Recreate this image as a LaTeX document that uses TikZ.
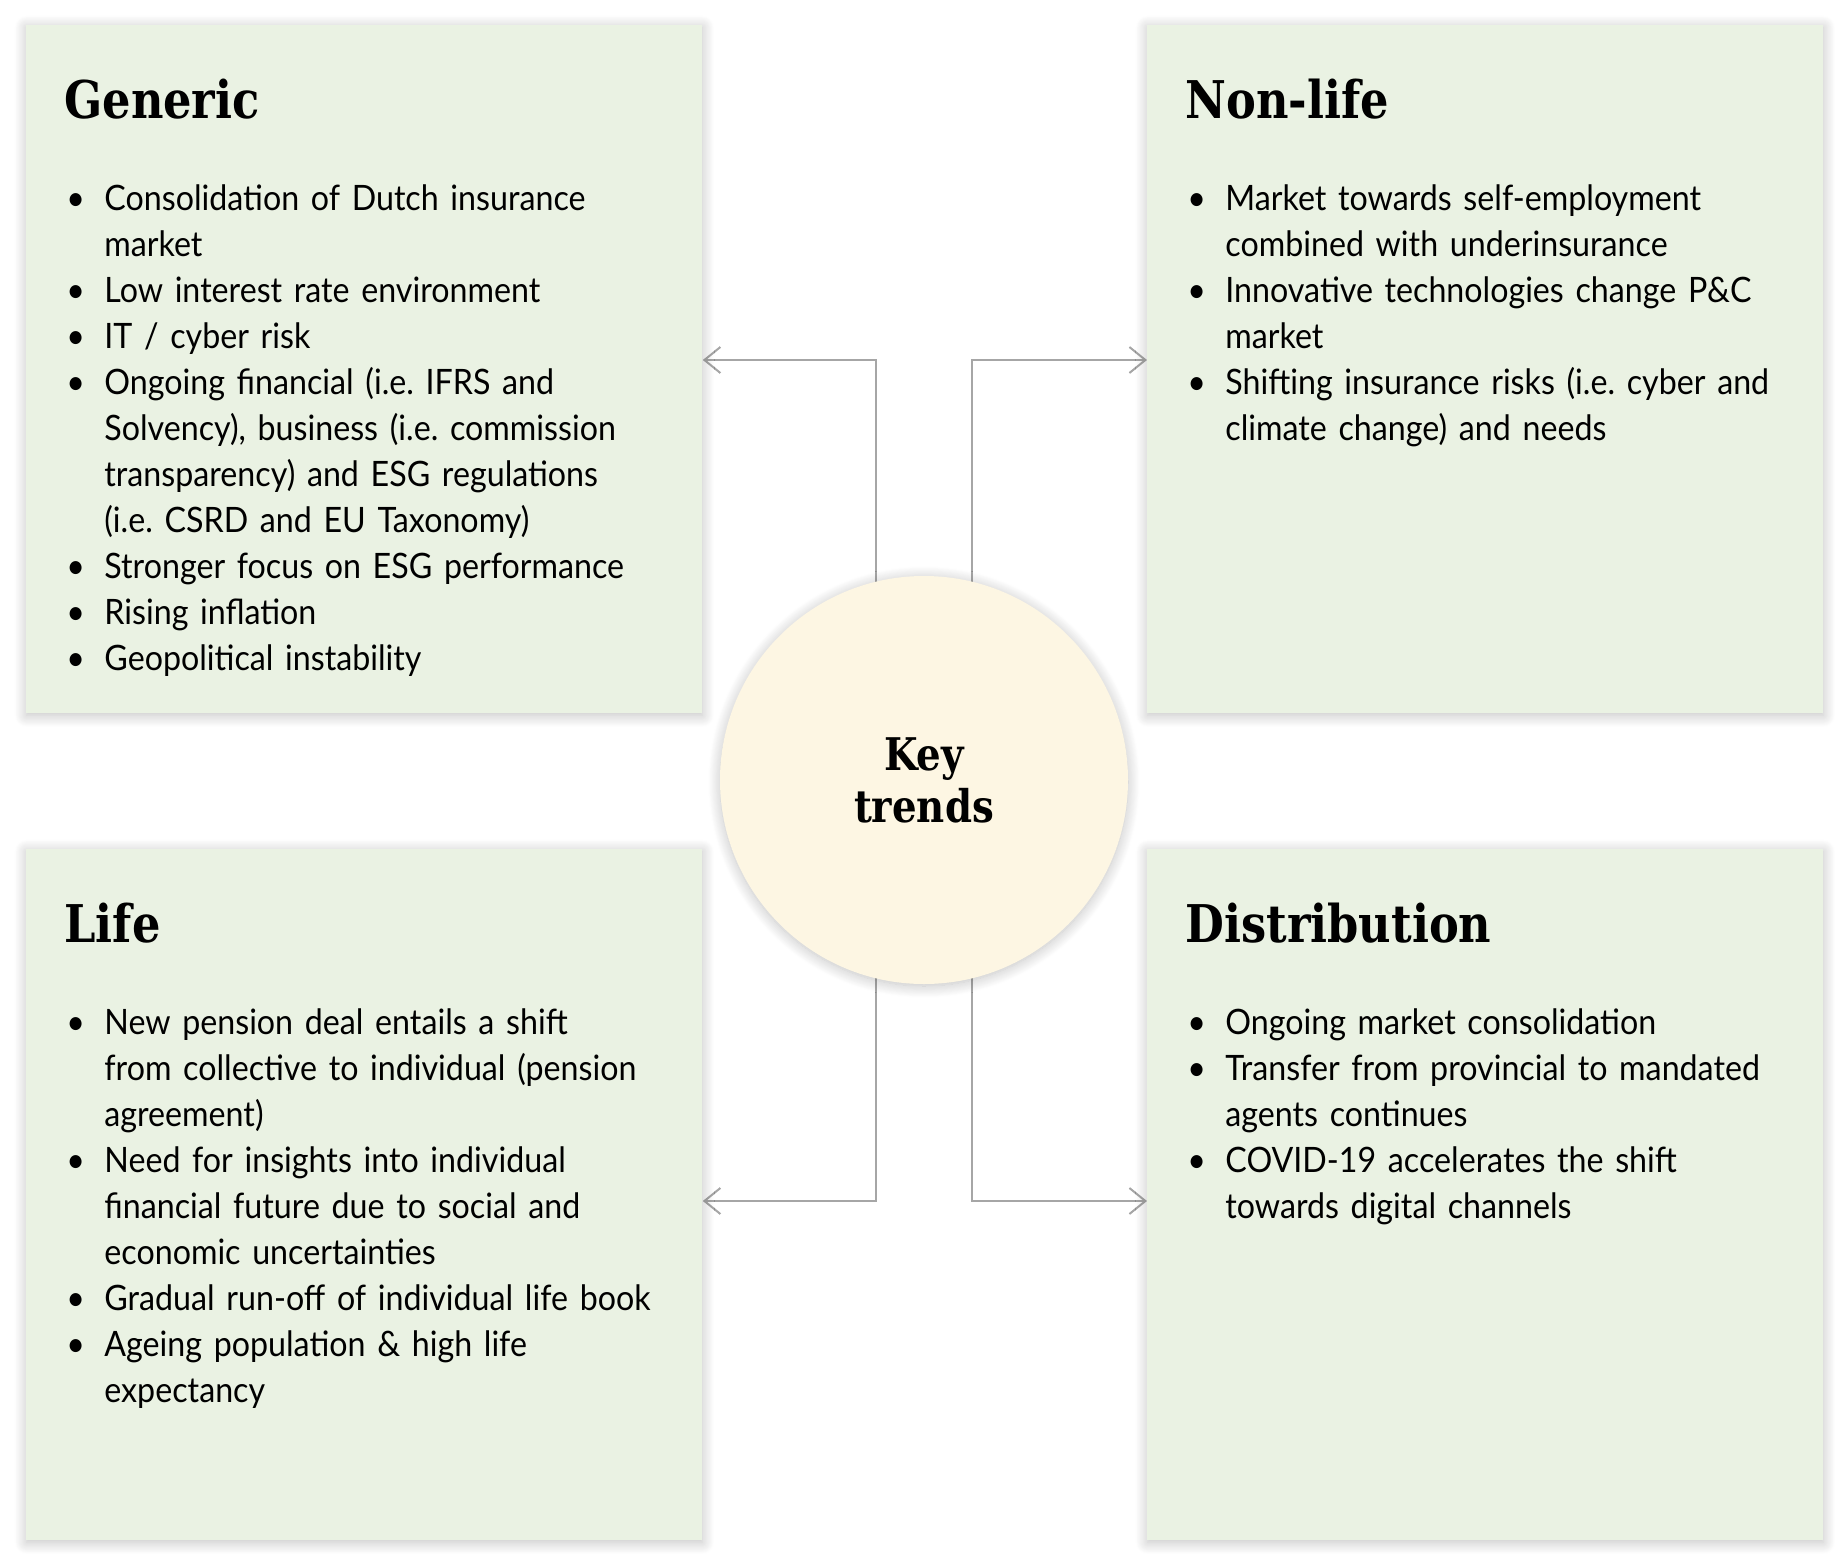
\documentclass[tikz,border=0pt]{standalone}
\usepackage{fontspec}
\setmainfont{Lato}[FakeStretch=0.92]
\newfontfamily\headfont{DejaVu Serif}[FakeStretch=0.86]
\usetikzlibrary{positioning,arrows.meta,shadows.blur,backgrounds}
\frenchspacing

\definecolor{panelgreen}{HTML}{EAF2E3}
\definecolor{keycream}{HTML}{FDF6E3}
\definecolor{linkgray}{HTML}{A6A6A6}

\newcommand{\itm}{\makebox[19pt][l]{\textbullet}}
\newcommand{\cont}{\hspace*{19pt}}
\newcommand{\listfont}{\fontsize{17.5pt}{23pt}\selectfont\spaceskip=0.22em plus 0.1em\relax}

\begin{document}
\begin{tikzpicture}[
        x=0.5pt, y=-0.5pt,
        panel/.style={fill=panelgreen, draw=none, anchor=north west,
            minimum width=338pt, inner sep=0pt,
            blur shadow={shadow xshift=0pt, shadow yshift=-1pt,
                shadow blur radius=6pt, shadow blur steps=14, shadow opacity=25}},
        head/.style={font=\headfont\bfseries\fontsize{26pt}{30pt}\selectfont, anchor=base west, inner sep=0pt},
        trendlist/.style={font=\listfont, align=left,
            text width=330pt, anchor=base west, inner sep=0pt},
        link/.style={draw=linkgray, line width=1pt,
            -{Straight Barb[length=8pt, width=13pt]}}
    ]

    \useasboundingbox (0,0) rectangle (1848,1563) ;

    % four panels
    \node[panel, minimum height=344pt]   (gen)  at (26,25)    {} ;
    \node[panel, minimum height=344pt]   (nonl) at (1147,25)  {} ;
    \node[panel, minimum height=345.5pt] (life) at (26,849)   {} ;
    \node[panel, minimum height=345.5pt] (dist) at (1147,849) {} ;

    % centre
    \node[circle, fill=keycream, minimum size=204pt, inner sep=0pt,
        blur shadow={shadow xshift=0pt, shadow yshift=-1pt,
            shadow blur radius=6pt, shadow blur steps=14, shadow opacity=25},
        align=center, font=\headfont\bfseries\fontsize{22.5pt}{26pt}\selectfont]
        (kt) at (924,780) {Key\\trends} ;

    \coordinate (up) at (0,360) ;
    \coordinate (dn) at (0,1201) ;

    \begin{scope}[on background layer]
        \draw[link] ([xshift=-24pt]kt.center) |- (gen.east |- up) ;
        \draw[link] ([xshift=24pt]kt.center)  |- (nonl.west |- up) ;
        \draw[link] ([xshift=-24pt]kt.center) |- (life.east |- dn) ;
        \draw[link] ([xshift=24pt]kt.center)  |- (dist.west |- dn) ;
    \end{scope}

    % titles
    \node[head] (genT)  at ([shift={(19pt,-46.5pt)}]gen.north west)  {Generic} ;
    \node[head] (nonlT) at ([shift={(19pt,-46.5pt)}]nonl.north west) {Non-life} ;
    \node[head] (lifeT) at ([shift={(19pt,-46.5pt)}]life.north west) {Life} ;
    \node[head] (distT) at ([shift={(19pt,-46.5pt)}]dist.north west) {Distribution} ;

    % bullet lists
    \node[trendlist] (genL) at ([shift={(20pt,-92.5pt)}]gen.north west) {
        \itm Consolidation of Dutch insurance\\
        \cont market\\
        \itm Low interest rate environment\\
        \itm IT / cyber risk\\
        \itm Ongoing financial (i.e. IFRS and\\
        \cont Solvency), business (i.e. commission\\
        \cont transparency) and ESG regulations\\
        \cont (i.e. CSRD and EU Taxonomy)\\
        \itm Stronger focus on ESG performance\\
        \itm Rising inflation\\
        \itm Geopolitical instability} ;

    \node[trendlist] (nonlL) at ([shift={(20pt,-92.5pt)}]nonl.north west) {
        \itm Market towards self-employment\\
        \cont combined with underinsurance\\
        \itm Innovative technologies change P\&C\\
        \cont market\\
        \itm Shifting insurance risks (i.e. cyber and\\
        \cont climate change) and needs} ;

    \node[trendlist] (lifeL) at ([shift={(20pt,-92.5pt)}]life.north west) {
        \itm New pension deal entails a shift\\
        \cont from collective to individual (pension\\
        \cont agreement)\\
        \itm Need for insights into individual\\
        \cont financial future due to social and\\
        \cont economic uncertainties\\
        \itm Gradual run-off of individual life book\\
        \itm Ageing population \& high life\\
        \cont expectancy} ;

    \node[trendlist] (distL) at ([shift={(20pt,-92.5pt)}]dist.north west) {
        \itm Ongoing market consolidation\\
        \itm Transfer from provincial to mandated\\
        \cont agents continues\\
        \itm COVID-19 accelerates the shift\\
        \cont towards digital channels} ;

\end{tikzpicture}
\end{document}
